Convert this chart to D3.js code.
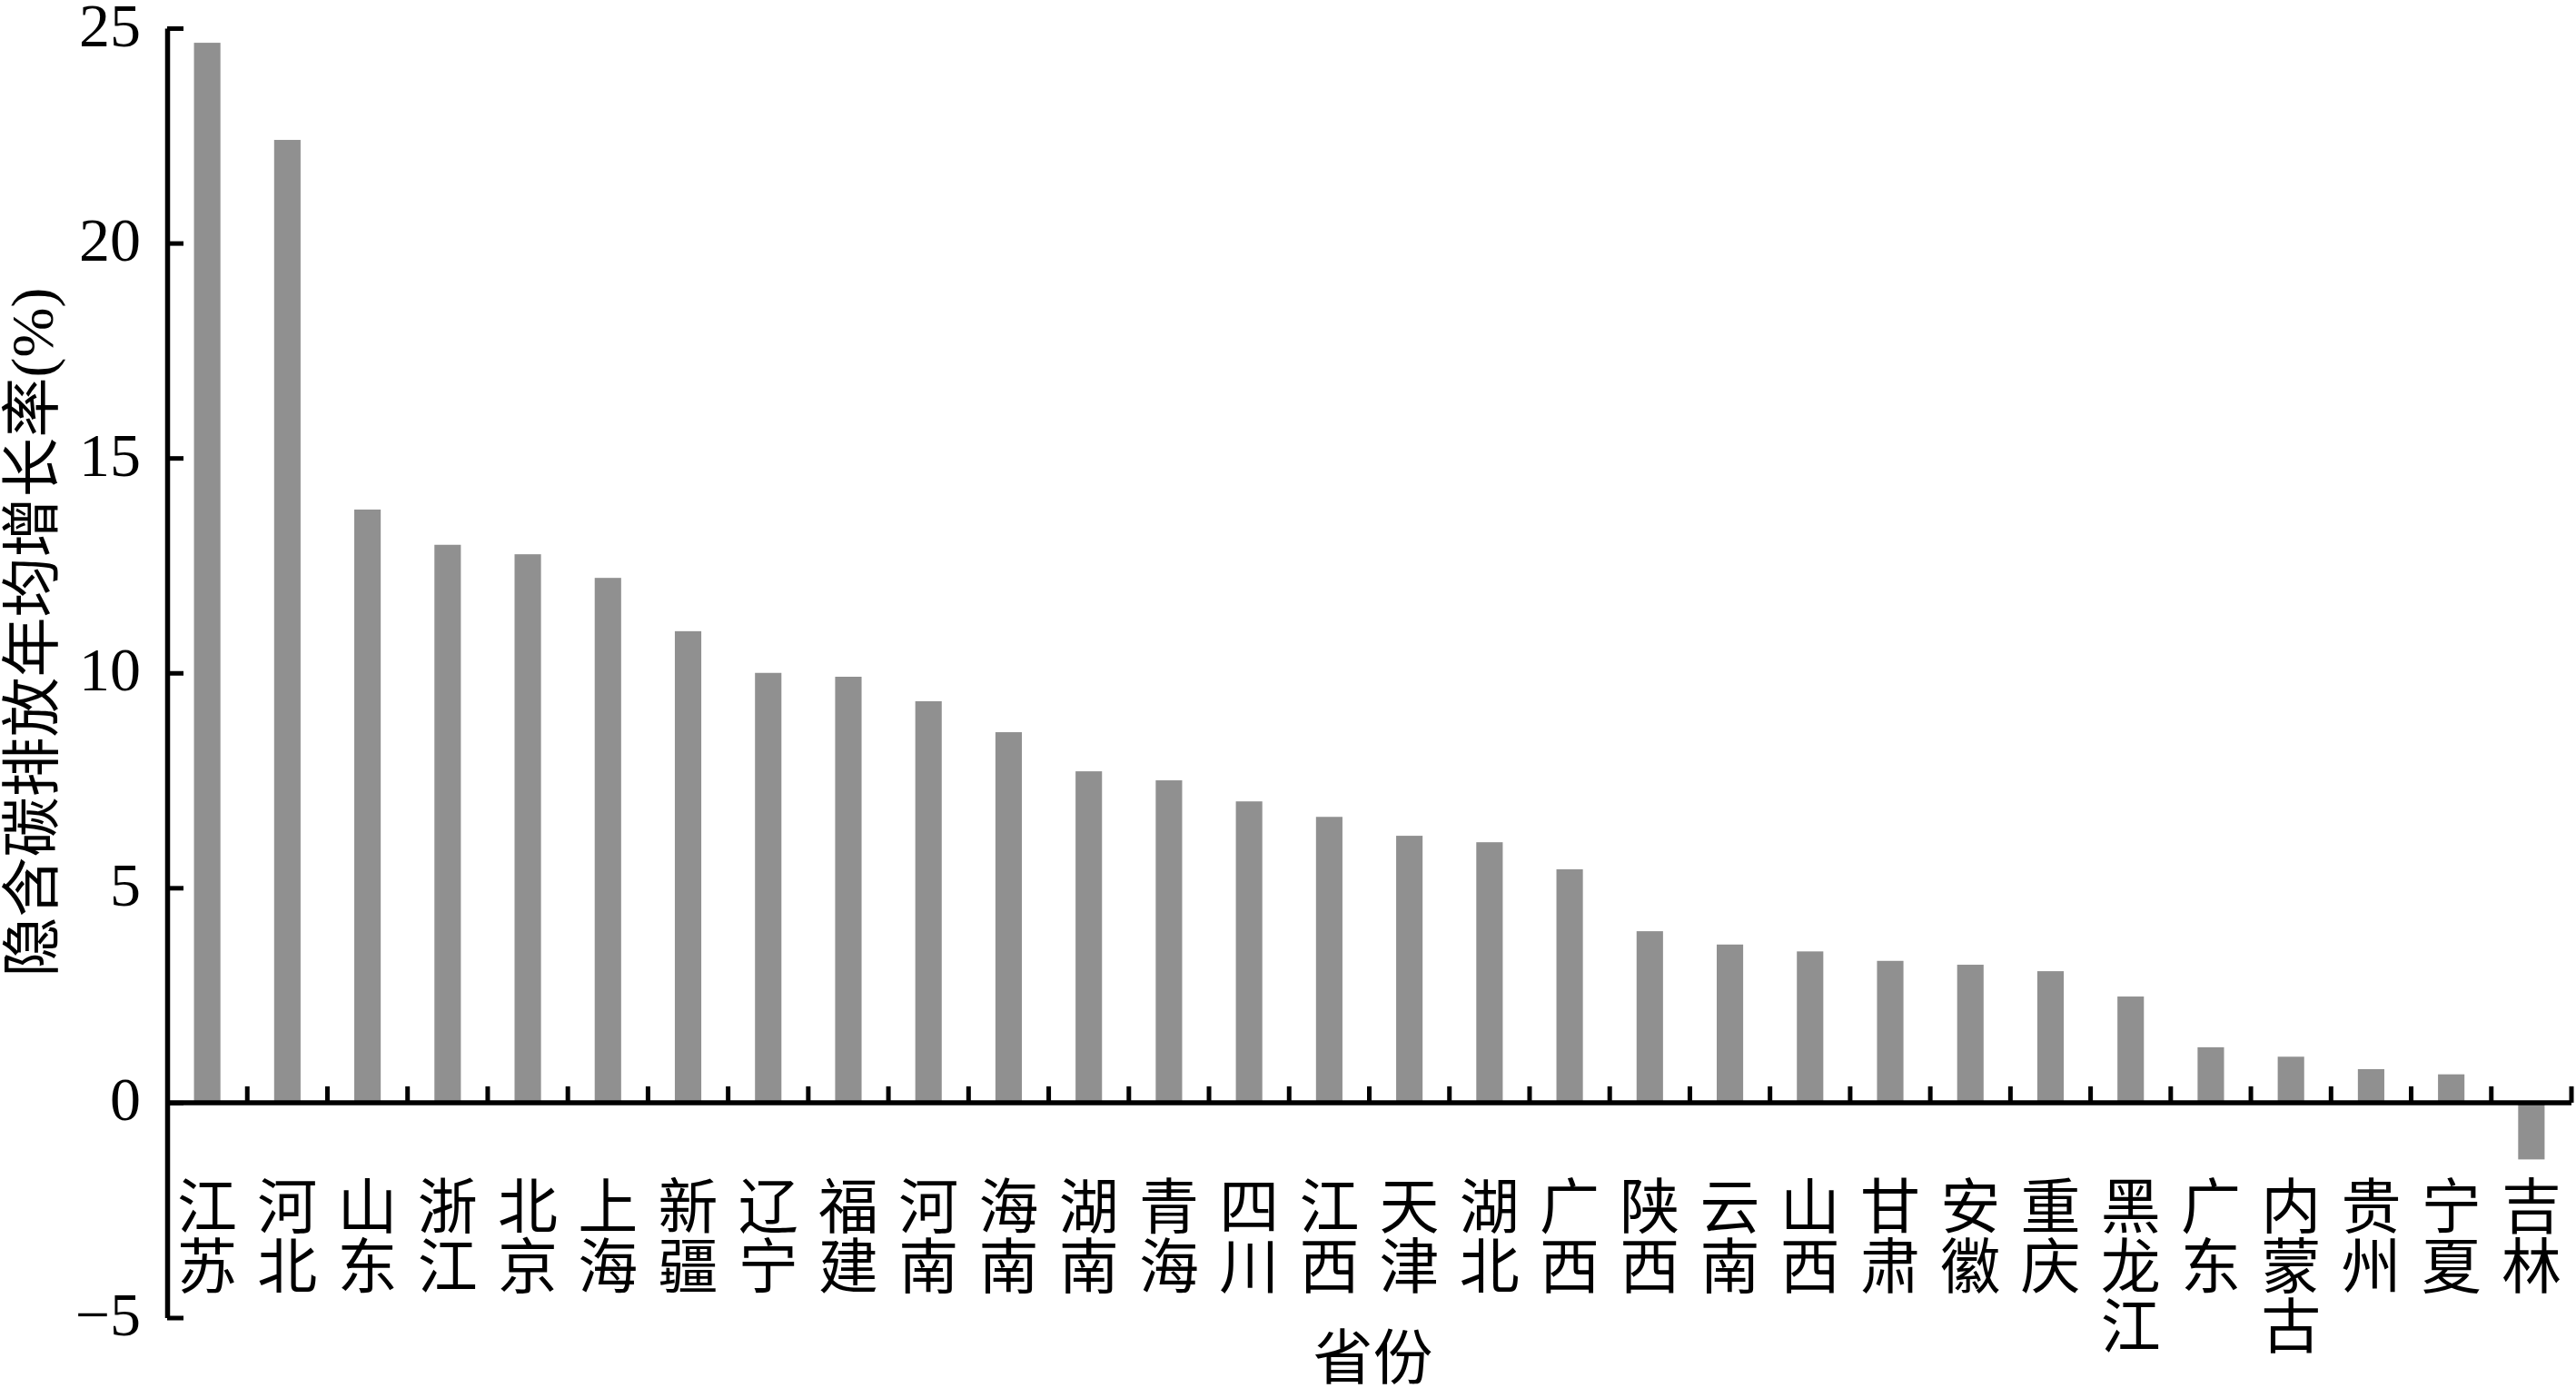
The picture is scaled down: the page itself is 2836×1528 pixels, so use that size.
<!DOCTYPE html>
<html>
<head>
<meta charset="utf-8">
<script src="https://cdn.jsdelivr.net/npm/d3@7/dist/d3.min.js"></script>
<style>
  html, body { margin: 0; padding: 0; background: #fff; }
  svg { display: block; }
</style>
</head>
<body>
<svg id="chart" width="2836" height="1528"></svg>
<script>
// ---------- data ----------
const categories = ["江苏","河北","山东","浙江","北京","上海","新疆","辽宁","福建","河南",
                    "海南","湖南","青海","四川","江西","天津","湖北","广西","陕西","云南",
                    "山西","甘肃","安徽","重庆","黑龙江","广东","内蒙古","贵州","宁夏","吉林"];
const values = [24.66, 22.40, 13.80, 12.98, 12.76, 12.21, 10.97, 10.00, 9.91, 9.34,
                8.62, 7.71, 7.50, 7.01, 6.65, 6.21, 6.06, 5.43, 3.99, 3.68,
                3.52, 3.30, 3.21, 3.06, 2.47, 1.29, 1.07, 0.78, 0.66, -1.32];
const yTicks = [-5, 0, 5, 10, 15, 20, 25];
const yTitle = "隐含碳排放年均增长率(%)";
const xTitle = "省份";

// ---------- layout ----------
const W = 2836, H = 1528;
const svg = d3.select("#chart");
const serif = "'Liberation Serif','Times New Roman',serif";
const cjk = "'Liberation Serif','Noto Sans CJK SC','Noto Sans CJK JP',sans-serif";

const x = d3.scaleBand().domain(categories).range([184, 2831]).padding(0);
const y = d3.scaleLinear().domain([-5, 25]).range([1450.5, 31]);

const data = categories.map((c, i) => ({ c, v: values[i] }));
const barFrac = 0.33;

// bars
svg.append("g").selectAll("rect").data(data).join("rect")
  .attr("x", d => x(d.c) + x.bandwidth() * (1 - barFrac) / 2)
  .attr("width", x.bandwidth() * barFrac)
  .attr("y", d => y(Math.max(d.v, 0)))
  .attr("height", d => Math.abs(y(d.v) - y(0)))
  .attr("fill", "#909090");

// y axis
const yAxis = svg.append("g")
  .attr("transform", `translate(${x.range()[0]},0)`)
  .call(d3.axisLeft(y).tickValues(yTicks).tickSizeInner(-18).tickSizeOuter(0).tickPadding(29));
yAxis.select(".domain").attr("stroke", "#000").attr("stroke-width", 5.5);
yAxis.selectAll(".tick line").attr("stroke", "#000").attr("stroke-width", 5);
yAxis.selectAll(".tick text")
  .attr("fill", "#000")
  .attr("dy", "0.28em")
  .style("font-family", serif)
  .style("font-size", "68px");

// x axis (at zero)
const xAxis = svg.append("g");
const x0 = x.range()[0], x1 = x.range()[1];
xAxis.append("line")
  .attr("x1", x0).attr("x2", x1)
  .attr("y1", y(0)).attr("y2", y(0))
  .attr("stroke", "#000").attr("stroke-width", 5.5);
const boundaries = d3.range(1, categories.length + 1).map(i => x0 + i * x.step());
xAxis.selectAll("line.tk").data(boundaries).join("line")
  .attr("class", "tk")
  .attr("x1", d => d).attr("x2", d => d)
  .attr("y1", y(0)).attr("y2", y(0) - 18)
  .attr("stroke", "#000").attr("stroke-width", 5);

// category labels, stacked vertically
const labelTop = 1352, lineGap = 66;
const lab = svg.append("g")
  .style("font-family", cjk)
  .style("font-size", "66px")
  .attr("fill", "#000")
  .attr("text-anchor", "middle");
data.forEach(d => {
  const t = lab.append("text");
  Array.from(d.c).forEach((ch, j) => {
    t.append("tspan")
      .attr("x", x(d.c) + x.bandwidth() / 2)
      .attr("y", labelTop + j * lineGap)
      .text(ch);
  });
});

// axis titles
svg.append("text")
  .attr("x", (x0 + x1) / 2 + 4)
  .attr("y", 1518)
  .attr("text-anchor", "middle")
  .style("font-family", cjk)
  .style("font-size", "66px")
  .attr("fill", "#000")
  .text(xTitle);

svg.append("text")
  .attr("transform", "translate(58,696) rotate(-90)")
  .attr("text-anchor", "middle")
  .style("font-family", cjk)
  .style("font-size", "66px")
  .attr("fill", "#000")
  .text(yTitle);
</script>
</body>
</html>
